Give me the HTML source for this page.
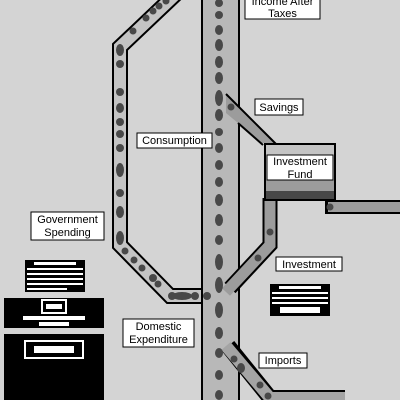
<!DOCTYPE html>
<html><head><style>
html,body{margin:0;padding:0;background:#d4d4d4;}
svg{display:block;}
text{font-family:"Liberation Sans","DejaVu Sans",sans-serif;font-size:11px;fill:#000;}
</style></head><body>
<svg width="400" height="400" viewBox="0 0 400 400" xmlns="http://www.w3.org/2000/svg">
<rect width="400" height="400" fill="#d4d4d4"/>
<!-- left consumption pipe -->
<polyline points="178,-8 120,47 120,245 170,296 206,296" fill="none" stroke="#000" stroke-width="16" stroke-linejoin="miter"/>
<polyline points="178,-8 120,47 120,245 170,296 206,296" fill="none" stroke="#c4c4c4" stroke-width="12" stroke-linejoin="miter"/>
<!-- right outflow -->
<rect x="325" y="200" width="80" height="14" fill="#000"/>
<rect x="328" y="202" width="80" height="10" fill="#9c9c9c"/>
<!-- main pipe -->
<rect x="202" y="-2" width="37" height="404" fill="#b8b8b8" stroke="#000" stroke-width="2"/>
<!-- savings -->
<polygon points="226,94 275,143 262,143 226,113" fill="#9c9c9c"/>
<line x1="226" y1="94" x2="276" y2="144" stroke="#000" stroke-width="2"/>
<line x1="238" y1="123" x2="263" y2="145" stroke="#000" stroke-width="2"/>
<!-- investment -->
<polyline points="270,198 270,245 230,288" fill="none" stroke="#000" stroke-width="15" stroke-linejoin="miter"/>
<polyline points="270,198 270,245 226,292" fill="none" stroke="#9c9c9c" stroke-width="11" stroke-linejoin="miter"/>
<!-- imports -->
<polyline points="228,346 270,398 345,398" fill="none" stroke="#000" stroke-width="16" stroke-linejoin="miter"/>
<polyline points="226,346 270,398 345,398" fill="none" stroke="#a4a4a4" stroke-width="12" stroke-linejoin="miter"/>
<!-- investment fund box -->
<rect x="264" y="143" width="72" height="58" fill="#000"/>
<rect x="266" y="145" width="68" height="35" fill="#c4c4c4"/>
<rect x="266" y="180" width="68" height="11" fill="#9c9c9c"/>
<rect x="266" y="191" width="68" height="8" fill="#484848"/>
<!-- dots main -->
<g fill="#484848">
<ellipse cx="219" cy="3" rx="4" ry="4"/><ellipse cx="219" cy="15" rx="4" ry="4"/>
<ellipse cx="219" cy="30" rx="4" ry="5"/><ellipse cx="219" cy="45" rx="4" ry="6"/>
<ellipse cx="219" cy="62" rx="4" ry="6"/><ellipse cx="219" cy="78" rx="4" ry="6"/>
<ellipse cx="219" cy="98" rx="4" ry="8"/><ellipse cx="219" cy="115" rx="4" ry="6"/>
<ellipse cx="219" cy="132" rx="4" ry="4"/><ellipse cx="219" cy="148" rx="4" ry="5"/>
<ellipse cx="219" cy="165" rx="4" ry="5"/><ellipse cx="219" cy="182" rx="4" ry="5"/>
<ellipse cx="219" cy="200" rx="4" ry="6"/><ellipse cx="219" cy="220" rx="4" ry="6"/>
<ellipse cx="219" cy="240" rx="4" ry="5"/><ellipse cx="219" cy="262" rx="4" ry="8"/>
<ellipse cx="219" cy="285" rx="4" ry="8"/><ellipse cx="219" cy="310" rx="4" ry="8"/>
<ellipse cx="219" cy="333" rx="4" ry="6"/><ellipse cx="219" cy="353" rx="4" ry="5"/>
<ellipse cx="219" cy="375" rx="4" ry="5"/><ellipse cx="219" cy="395" rx="4" ry="5"/>
<!-- left pipe dots -->
<circle cx="133" cy="31" r="3.5"/><circle cx="146" cy="18" r="3.5"/><circle cx="153" cy="11" r="3.5"/><circle cx="159" cy="6" r="3.5"/><circle cx="166" cy="1" r="3.5"/>
<ellipse cx="120" cy="50" rx="4" ry="6"/><circle cx="120" cy="64" r="4"/>
<circle cx="120" cy="92" r="4"/><ellipse cx="120" cy="108" rx="4" ry="5"/><circle cx="120" cy="122" r="4"/><circle cx="120" cy="134" r="4"/>
<circle cx="120" cy="148" r="4"/><ellipse cx="120" cy="170" rx="4" ry="7"/><circle cx="120" cy="193" r="4"/>
<ellipse cx="120" cy="212" rx="4" ry="6"/><ellipse cx="120" cy="238" rx="4" ry="7"/>
<circle cx="125" cy="251" r="3.5"/><circle cx="134" cy="260" r="3.5"/><circle cx="142" cy="268" r="3.5"/>
<circle cx="153" cy="278" r="4"/><circle cx="158" cy="284" r="3.5"/>
<ellipse cx="182" cy="296" rx="10" ry="4"/><circle cx="172" cy="296" r="4"/><circle cx="195" cy="296" r="4"/><circle cx="207" cy="296" r="4"/>
<!-- savings/investment/imports dots -->
<circle cx="231" cy="107" r="3.5"/>
<circle cx="270" cy="232" r="3.5"/><circle cx="258" cy="258" r="3.5"/>
<circle cx="330" cy="207" r="3.5"/>
<circle cx="234" cy="359" r="3.5"/><ellipse cx="241" cy="368" rx="4" ry="5"/><circle cx="260" cy="385" r="3.5"/><circle cx="268" cy="396" r="3.5"/>
</g>
<!-- labels -->
<g>
<rect x="245" y="-10" width="75" height="29" fill="#fff" stroke="#000"/>
<text x="282.5" y="5" text-anchor="middle">Income After</text>
<text x="282.5" y="17" text-anchor="middle">Taxes</text>
<rect x="255" y="99" width="48" height="16" fill="#fff" stroke="#000"/>
<text x="279" y="111" text-anchor="middle">Savings</text>
<rect x="137" y="133" width="75" height="15" fill="#fff" stroke="#000"/>
<text x="174.5" y="144" text-anchor="middle">Consumption</text>
<rect x="267" y="155" width="66" height="25" fill="#fff" stroke="#000"/>
<text x="300" y="165" text-anchor="middle">Investment</text>
<text x="300" y="178" text-anchor="middle">Fund</text>
<rect x="31" y="212" width="73" height="28" fill="#fff" stroke="#000"/>
<text x="67.5" y="223" text-anchor="middle">Government</text>
<text x="67.5" y="236" text-anchor="middle">Spending</text>
<rect x="276" y="257" width="66" height="14" fill="#fff" stroke="#000"/>
<text x="309" y="268" text-anchor="middle">Investment</text>
<rect x="123" y="319" width="71" height="28" fill="#fff" stroke="#000"/>
<text x="158.5" y="330" text-anchor="middle">Domestic</text>
<text x="158.5" y="343" text-anchor="middle">Expenditure</text>
<rect x="259" y="353" width="48" height="15" fill="#fff" stroke="#000"/>
<text x="283" y="364" text-anchor="middle">Imports</text>
</g>
<!-- icons -->
<rect x="25" y="260" width="60" height="32" fill="#000"/>
<g fill="#fff">
<rect x="34" y="262" width="42" height="3"/><rect x="27" y="268" width="56" height="2"/><rect x="27" y="273" width="56" height="2"/><rect x="27" y="278" width="56" height="2"/><rect x="27" y="283" width="56" height="2"/><rect x="27" y="288" width="40" height="2"/>
</g>
<rect x="4" y="298" width="100" height="30" fill="#000"/>
<rect x="42" y="300" width="24" height="13" fill="none" stroke="#fff" stroke-width="2"/>
<rect x="46" y="304" width="16" height="5" fill="#fff"/>
<rect x="23" y="316" width="62" height="4" fill="#fff"/><rect x="39" y="322" width="30" height="4" fill="#fff"/>
<rect x="4" y="334" width="100" height="70" fill="#000"/>
<rect x="25" y="341" width="58" height="17" fill="none" stroke="#fff" stroke-width="2"/>
<rect x="34" y="346" width="40" height="7" fill="#fff"/>
<rect x="270" y="284" width="60" height="32" fill="#000"/>
<g fill="#fff">
<rect x="279" y="286" width="42" height="3"/><rect x="272" y="292" width="56" height="2"/><rect x="272" y="297" width="56" height="2"/><rect x="272" y="302" width="56" height="2"/><rect x="280" y="307" width="40" height="6"/>
</g>
</svg>
</body></html>
